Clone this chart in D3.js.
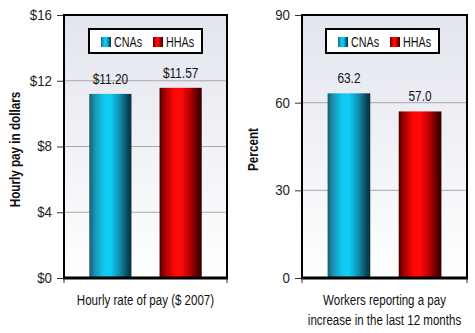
<!DOCTYPE html>
<html>
<head>
<meta charset="utf-8">
<script src="https://cdn.jsdelivr.net/npm/d3@7"></script>
<style>
  html, body { margin: 0; padding: 0; background: #fff; }
  svg { display: block; }
  text { font-family: "Liberation Sans", Arial, sans-serif; fill: #111; }
</style>
</head>
<body>
<svg id="chart" width="475" height="333"></svg>
<script>
// Series and categories
const series = ["CNAs", "HHAs"];
const payValues = [11.20, 11.57];
const payLabels = ["$11.20", "$11.57"];
const payTicks = [0, 4, 8, 12, 16];
const raiseValues = [63.2, 57.0];
const raiseLabels = ["63.2", "57.0"];
const raiseTicks = [0, 30, 60, 90];

// horizontal squeeze applied to text to get a condensed face
const NARROW = 0.82;
const TICK_NARROW = 0.95;

const svg = d3.select("#chart");
const defs = svg.append("defs");

// Cylindrical shading for the bars
function barGradient(id, stops) {
  const g = defs.append("linearGradient").attr("id", id)
    .attr("x1", "0%").attr("x2", "100%").attr("y1", "0%").attr("y2", "0%");
  stops.forEach(([o, c]) => g.append("stop").attr("offset", o).attr("stop-color", c));
}
barGradient("gCNA", [["0%", "#1d5a6c"], ["12%", "#1b8fb0"], ["35%", "#10c8f0"], ["50%", "#0ecdf6"], ["72%", "#0e8fb0"], ["90%", "#0a4a5c"], ["100%", "#06303c"]]);
barGradient("gHHA", [["0%", "#4a0000"], ["12%", "#a40000"], ["35%", "#ff0606"], ["50%", "#ff0a0a"], ["72%", "#b80000"], ["90%", "#5a0000"], ["100%", "#2e0000"]]);

const bg = defs.append("linearGradient").attr("id", "gBg")
  .attr("x1", "0%").attr("x2", "0%").attr("y1", "0%").attr("y2", "100%");
bg.append("stop").attr("offset", "0%").attr("stop-color", "#e3e5ee");
bg.append("stop").attr("offset", "100%").attr("stop-color", "#ffffff");

const fills = ["url(#gCNA)", "url(#gHHA)"];

// text placed at (x, y) and narrowed horizontally about its anchor
function label(parent, x, y, str, opts = {}) {
  const k = opts.k || NARROW;
  const rot = opts.rotate ? ` rotate(${opts.rotate})` : "";
  return parent.append("text")
    .attr("transform", `translate(${x},${y})${rot} scale(${k},1)`)
    .attr("text-anchor", opts.anchor || "middle")
    .attr("font-size", opts.size || 14)
    .attr("font-weight", opts.weight || "normal")
    .text(str);
}

function panel(cfg) {
  const { x0, x1, y0, y1, values, labels, ticks, max, tickFmt, yTitle, yTitleX, xTitle, legendX } = cfg;
  const g = svg.append("g");
  const y = d3.scaleLinear().domain([0, max]).range([y1, y0]);
  const x = d3.scaleBand().domain(series).range([x0, x1]).paddingInner(0.4).paddingOuter(0.36);

  // plot background
  g.append("rect").attr("x", x0).attr("y", y0).attr("width", x1 - x0).attr("height", y1 - y0)
    .attr("fill", "url(#gBg)");

  // gridlines
  g.selectAll(".grid").data(ticks.filter(t => t > 0 && t < max)).join("line")
    .attr("x1", x0).attr("x2", x1)
    .attr("y1", d => y(d)).attr("y2", d => y(d))
    .attr("stroke", "#a8a8a8").attr("stroke-width", 1);

  // y axis with ticks outside the frame
  const yAxis = d3.axisLeft(y).tickValues(ticks).tickFormat(tickFmt).tickSize(6).tickPadding(5);
  const ya = g.append("g").attr("transform", `translate(${x0 - 1},0)`).call(yAxis);
  ya.select(".domain").remove();
  ya.selectAll(".tick line").attr("stroke", "#333");
  ya.selectAll(".tick text")
    .attr("font-size", 14).style("fill", "#222")
    .attr("transform", `translate(-11,0) scale(${TICK_NARROW},1)`)
    .attr("x", 0);

  // bars
  g.selectAll(".bar").data(values).join("rect")
    .attr("x", (d, i) => x(series[i]))
    .attr("y", d => y(d))
    .attr("width", x.bandwidth())
    .attr("height", d => y(0) - y(d))
    .attr("fill", (d, i) => fills[i]);

  // value labels
  values.forEach((d, i) =>
    label(g, x(series[i]) + x.bandwidth() / 2, y(d) - 10, labels[i], { size: 14.5 }));

  // frame
  g.append("path")
    .attr("d", `M${x0},${y1} L${x0},${y0} L${x1},${y0} L${x1},${y1}`)
    .attr("fill", "none").attr("stroke", "#000").attr("stroke-width", 2);
  g.append("line").attr("x1", x0 - 1).attr("x2", x1 + 1).attr("y1", y1).attr("y2", y1)
    .attr("stroke", "#000").attr("stroke-width", 3);
  // small end ticks below the baseline
  [x0, x1].forEach(px => g.append("line").attr("x1", px).attr("x2", px)
    .attr("y1", y1).attr("y2", y1 + 5).attr("stroke", "#333").attr("stroke-width", 1));

  // legend
  const lg = g.append("g").attr("transform", `translate(${legendX},${29})`);
  lg.append("rect").attr("x", 0).attr("y", 0).attr("width", 113).attr("height", 24)
    .attr("fill", "#fff").attr("stroke", "#000").attr("stroke-width", 2);
  const swatchX = [12, 64];
  series.forEach((name, i) => {
    lg.append("rect").attr("x", swatchX[i]).attr("y", 8).attr("width", 10).attr("height", 10)
      .attr("fill", fills[i]);
    label(lg, swatchX[i] + 13, 18, name, { anchor: "start", size: 14, k: 0.77 });
  });

  // axis titles
  label(g, yTitleX, (y0 + y1) / 2 + 3, yTitle, { rotate: -90, weight: "bold", size: 15, k: 0.78 });
  xTitle.forEach((line, i) => label(g, (x0 + x1) / 2, 305 + i * 20, line, { size: 15, k: 0.77 }));
}

panel({
  x0: 64, x1: 227, y0: 15, y1: 278,
  values: payValues, labels: payLabels, ticks: payTicks, max: 16,
  tickFmt: d => "$" + d,
  yTitle: "Hourly pay in dollars", yTitleX: 20,
  xTitle: ["Hourly rate of pay ($ 2007)"],
  legendX: 89
});

panel({
  x0: 302, x1: 467, y0: 15, y1: 278,
  values: raiseValues, labels: raiseLabels, ticks: raiseTicks, max: 90,
  tickFmt: d => String(d),
  yTitle: "Percent", yTitleX: 258,
  xTitle: ["Workers reporting a pay", "increase in the last 12 months"],
  legendX: 326
});
</script>
</body>
</html>
